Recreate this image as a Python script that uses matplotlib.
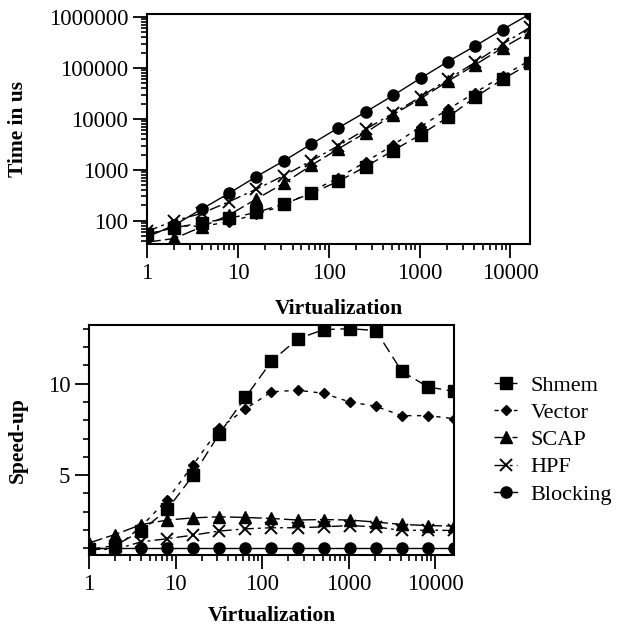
import matplotlib.pyplot as plt
import matplotlib.ticker as mticker
import numpy as np

plt.rcParams['font.family'] = ['Liberation Serif', 'DejaVu Serif']

virt = [1, 2, 4, 8, 16, 32, 64, 128, 256, 512, 1024, 2048, 4096, 8192, 16384]

# time in us (top panel)
t_shmem = [55, 73, 91, 112, 146, 213, 345, 600, 1160, 2400, 4900, 10800, 26700, 60000, 123000]
t_vector = [50, 80, 78, 95, 135, 200, 372, 705, 1440, 3085, 7080, 15400, 33000, 69500, 142000]
t_scap = [38, 45, 76, 130, 268, 545, 1220, 2600, 5400, 12200, 25000, 55000, 116000, 250000, 500000]
t_hpf = [62, 100, 140, 237, 420, 770, 1500, 3000, 6300, 13000, 27000, 60000, 130000, 294000, 630000]
t_blocking = [48, 82, 170, 347, 740, 1500, 3200, 6700, 13800, 29000, 63000, 134000, 272000, 570000, 1150000]

# speed-up (bottom panel)
s_shmem = [0.95, 1.16, 1.95, 3.13, 5.0, 7.27, 9.25, 11.22, 12.44, 12.95, 13.0, 12.9, 10.67, 9.82, 9.58]
s_vector = [1.0, 1.0, 2.2, 3.67, 5.58, 7.55, 8.62, 9.55, 9.64, 9.47, 9.0, 8.76, 8.25, 8.25, 8.09]
s_scap = [1.3, 1.76, 2.3, 2.55, 2.67, 2.73, 2.69, 2.64, 2.55, 2.58, 2.55, 2.44, 2.31, 2.25, 2.22]
s_hpf = [0.95, 0.95, 1.36, 1.53, 1.73, 1.95, 2.07, 2.13, 2.13, 2.18, 2.25, 2.18, 1.98, 2.0, 1.98]
s_blocking = [1.0] * 15

names = ['Shmem', 'Vector', 'SCAP', 'HPF', 'Blocking']
styles = {
    'Shmem': dict(marker='s', ms=8, ls=(0, (8, 4))),
    'Vector': dict(marker='D', ms=5.5, ls=(0, (3, 4))),
    'SCAP': dict(marker='^', ms=8, ls=(0, (10, 3))),
    'HPF': dict(marker='x', ms=9, mew=1.4, ls=(0, (8, 3, 2, 3))),
    'Blocking': dict(marker='o', ms=8, ls='-'),
}
times = [t_shmem, t_vector, t_scap, t_hpf, t_blocking]
speeds = [s_shmem, s_vector, s_scap, s_hpf, s_blocking]

fig = plt.figure(figsize=(6.26, 6.31), dpi=100)
ax1 = fig.add_axes([0.2348, 0.6133, 0.6118, 0.3645])
ax2 = fig.add_axes([0.1422, 0.1204, 0.5830, 0.3645])


def style_axes(ax):
    for s in ax.spines.values():
        s.set_linewidth(1.5)
    ax.tick_params(which='major', direction='out', length=10, width=1.3, labelsize=16.5)
    ax.tick_params(which='minor', direction='out', length=4.5, width=1.2)
    ax.tick_params(top=False, right=False)


for name, y in zip(names, times):
    ax1.plot(virt, y, color='black', lw=1.0, mfc='black', mec='black', **styles[name])
ax1.set_xscale('log')
ax1.set_yscale('log')
ax1.set_xlim(1, 16384)
ax1.set_ylim(35, 1.15e6)
ax1.xaxis.set_major_formatter(mticker.FuncFormatter(lambda v, p: '%d' % v))
ax1.yaxis.set_major_formatter(mticker.FuncFormatter(lambda v, p: '%d' % v))
ax1.yaxis.set_minor_locator(mticker.LogLocator(base=10, subs=np.arange(2, 10), numticks=20))
ax1.xaxis.set_minor_locator(mticker.LogLocator(base=10, subs=np.arange(2, 10), numticks=20))
ax1.yaxis.set_minor_formatter(mticker.NullFormatter())
ax1.xaxis.set_minor_formatter(mticker.NullFormatter())
ax1.set_xlabel('Virtualization', fontsize=15.5, fontweight='bold', labelpad=11)
ax1.set_ylabel('Time in us', fontsize=15.5, fontweight='bold')
ax1.yaxis.set_label_coords(-0.31, 0.5)
style_axes(ax1)

lines = []
for name, y in zip(names, speeds):
    ln, = ax2.plot(virt, y, color='black', lw=1.0, mfc='black', mec='black', label=name, **styles[name])
    lines.append(ln)
ax2.set_xscale('log')
ax2.set_xlim(1, 16384)
ax2.set_ylim(0.64, 13.2)
ax2.set_yticks([5, 10])
ax2.yaxis.set_minor_locator(mticker.MultipleLocator(1))
ax2.xaxis.set_major_formatter(mticker.FuncFormatter(lambda v, p: '%d' % v))
ax2.xaxis.set_minor_locator(mticker.LogLocator(base=10, subs=np.arange(2, 10), numticks=20))
ax2.xaxis.set_minor_formatter(mticker.NullFormatter())
ax2.set_xlabel('Virtualization', fontsize=15.5, fontweight='bold', labelpad=8)
ax2.set_ylabel('Speed-up', fontsize=15.5, fontweight='bold')
ax2.yaxis.set_label_coords(-0.168, 0.5)
style_axes(ax2)

fig.legend(handles=lines, loc='center left', bbox_to_anchor=(0.775, 0.303), frameon=False,
           fontsize=16, handlelength=1.05, handletextpad=0.6, labelspacing=0.3, borderaxespad=0)

fig.savefig('out.png', dpi=100)
